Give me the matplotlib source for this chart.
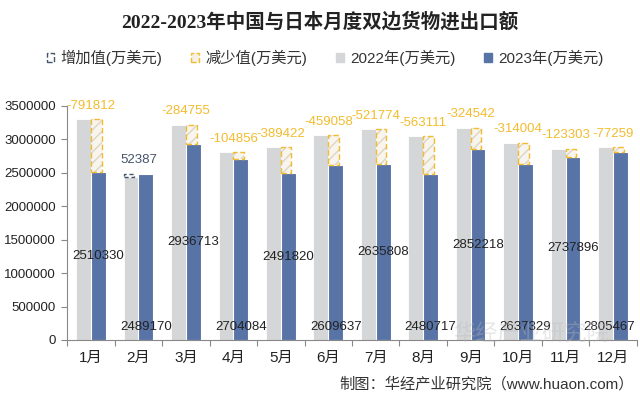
import numpy as np
import matplotlib.pyplot as plt
from matplotlib.patches import Patch

plt.rcParams['font.family'] = ['Liberation Sans', 'Noto Sans CJK SC', 'DejaVu Sans']

# monthly values (10k USD)
months = ['1月', '2月', '3月', '4月', '5月', '6月', '7月', '8月', '9月', '10月', '11月', '12月']
v2023 = [2510330, 2489170, 2936713, 2704084, 2491820, 2609637,
         2635808, 2480717, 2852218, 2637329, 2737896, 2805467]
change = [-791812, 52387, -284755, -104856, -389422, -459058,
          -521774, -563111, -324542, -314004, -123303, -77259]
v2022 = [a - c for a, c in zip(v2023, change)]

gray = '#d5d6d8'
blue = '#5873a6'
gold = '#f2bc2e'
dark = '#44546a'

fig = plt.figure(figsize=(6.4, 3.99), dpi=100)
ax = fig.add_axes([0.105, 0.148, 0.89, 0.5865])

x = np.arange(len(months))
w = 0.31
off = 0.157

ax.bar(x - off, v2022, w, color=gray, edgecolor='white', linewidth=0.6, zorder=2)
ax.bar(x + off, v2023, w, color=blue, edgecolor='white', linewidth=0.8, zorder=2)

# increase / decrease floating bars
fw = w * 0.72
for i in range(len(months)):
    lo = min(v2022[i], v2023[i])
    hi = max(v2022[i], v2023[i])
    if change[i] < 0:
        cx = x[i] + off - (w - fw) / 2
        ax.bar(cx, hi - lo, fw, bottom=lo, facecolor='#f8f5ee',
               edgecolor='#ddd5c4', linewidth=0, hatch='///', zorder=3)
        ax.bar(cx, hi - lo, fw, bottom=lo, facecolor='none',
               edgecolor=gold, linestyle=(0, (4, 2)), linewidth=1.0, zorder=3)
        col = gold
    else:
        cx = x[i] - off - (w - fw) / 2
        ax.bar(cx, hi - lo, fw, bottom=lo, facecolor='none',
               edgecolor=dark, linestyle=(0, (3, 2)), linewidth=1.0, zorder=3)
        col = dark
    ax.annotate(f'{change[i]}', (x[i], hi), xytext=(0, 9.5), textcoords='offset points',
                ha='center', va='center', fontsize=9.5, color=col, annotation_clip=False)

# 2023 value labels: odd months centred, even months near base
for i in range(len(months)):
    dx = -8 if i == len(months) - 1 else 0
    if i % 2 == 0:
        ax.annotate(f'{v2023[i]}', (x[i] + off, v2023[i] / 2), xytext=(dx, 0),
                    textcoords='offset points', ha='center', va='center',
                    fontsize=9.5, color='#222222', zorder=4)
    else:
        ax.annotate(f'{v2023[i]}', (x[i] + off, 0), xytext=(dx, 9.5), textcoords='offset points',
                    ha='center', va='center', fontsize=9.5, color='#222222', zorder=4)

ax.set_xlim(-0.5, len(months) - 0.5)
ax.set_ylim(0, 3500000)
ax.set_yticks(np.arange(0, 3500001, 500000))
ax.set_yticklabels([str(v) for v in range(0, 3500001, 500000)], fontsize=9.5, color='#222222')
ax.set_xticks(np.arange(-0.5, len(months), 1))
ax.set_xticklabels([])
ax.set_xticks(x, minor=True)
ax.set_xticklabels(months, minor=True, fontsize=11, color='#222222')
ax.tick_params(axis='x', which='major', length=4, color='#888888')
ax.tick_params(axis='x', which='minor', length=0, pad=8)
ax.tick_params(axis='y', length=4, color='#888888', pad=4)
for s in ['top', 'right']:
    ax.spines[s].set_visible(False)
ax.spines['left'].set_color('#888888')
ax.spines['bottom'].set_color('#888888')

fig.text(0.5, 0.945, '2022-2023年中国与日本月度双边货物进出口额', ha='center', va='center',
         fontsize=14, fontweight='bold', color='#222222',
         family=['Liberation Serif', 'Noto Sans CJK SC'])

handles = [Patch(facecolor='white', edgecolor=dark, linestyle='--'),
           Patch(facecolor='#f6f1e6', edgecolor=gold, linestyle='--'),
           Patch(facecolor=gray, edgecolor=gray),
           Patch(facecolor=blue, edgecolor=blue)]
labels = ['增加值(万美元)', '减少值(万美元)', '2022年(万美元)', '2023年(万美元)']
fig.legend(handles, labels, loc='center', bbox_to_anchor=(0.508, 0.855), ncol=4,
           frameon=False, fontsize=11, handlelength=0.5, handleheight=0.5,
           handletextpad=0.4, columnspacing=1.9, labelcolor='#333333')

# faint watermark
fig.text(0.83, 0.16, '华经产业研究院', ha='center', va='center', fontsize=16,
         color='#bbbbbb', alpha=0.35)

fig.text(0.99, 0.038, '制图：华经产业研究院（www.huaon.com）', ha='right', va='center',
         fontsize=11, color='#333333')

fig.savefig('out.png', dpi=100)
